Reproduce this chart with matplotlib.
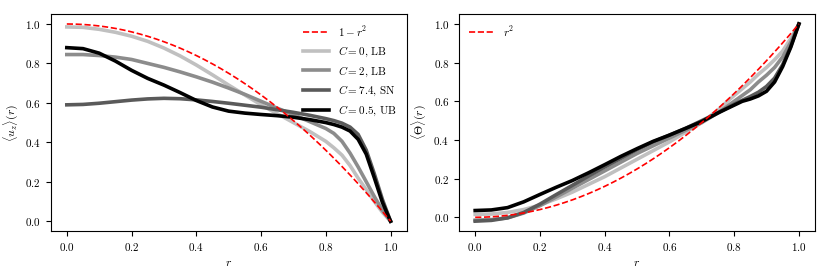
import numpy as np
import matplotlib
matplotlib.use("Agg")
import matplotlib.pyplot as plt

plt.rcParams['font.family'] = 'serif'
plt.rcParams['font.serif'] = ['cmr10', 'DejaVu Serif']
plt.rcParams['mathtext.fontset'] = 'cm'
plt.rcParams['axes.unicode_minus'] = False
plt.rcParams['axes.formatter.use_mathtext'] = True

# radial positions
r = [0.0, 0.05, 0.1, 0.15, 0.2, 0.25, 0.3, 0.35, 0.4, 0.45, 0.5, 0.55, 0.6,
     0.65, 0.7, 0.75, 0.8, 0.825, 0.85, 0.875, 0.9, 0.925, 0.95, 0.975, 1.0]

# mean axial velocity <u_z>(r)
uz_c0 = [0.985, 0.983, 0.973, 0.958, 0.938, 0.912, 0.878, 0.838, 0.792, 0.742, 0.69, 0.64,
         0.59, 0.545, 0.50, 0.455, 0.405, 0.372, 0.335, 0.282, 0.218, 0.16, 0.10, 0.045, 0.0]
uz_c2 = [0.845, 0.845, 0.84, 0.832, 0.82, 0.80, 0.78, 0.757, 0.732, 0.705, 0.675, 0.643,
         0.608, 0.573, 0.54, 0.505, 0.47, 0.445, 0.405, 0.345, 0.275, 0.2, 0.125, 0.055, 0.0]
uz_c74 = [0.59, 0.592, 0.598, 0.606, 0.614, 0.62, 0.623, 0.621, 0.615, 0.607, 0.598, 0.588,
          0.578, 0.565, 0.552, 0.537, 0.52, 0.51, 0.497, 0.477, 0.44, 0.36, 0.24, 0.11, 0.0]
uz_c05 = [0.88, 0.875, 0.852, 0.812, 0.765, 0.724, 0.69, 0.652, 0.612, 0.579, 0.558, 0.548,
          0.541, 0.535, 0.527, 0.515, 0.5, 0.49, 0.477, 0.457, 0.415, 0.34, 0.22, 0.095, 0.0]

# mean temperature <Theta>(r)
th_c0 = [0.015, 0.017, 0.025, 0.04, 0.063, 0.095, 0.13, 0.17, 0.21, 0.255, 0.30, 0.345,
         0.39, 0.44, 0.49, 0.555, 0.63, 0.665, 0.70, 0.74, 0.775, 0.815, 0.86, 0.925, 1.0]
th_c2 = [-0.015, -0.012, -0.003, 0.022, 0.06, 0.105, 0.15, 0.195, 0.24, 0.285, 0.33, 0.37,
         0.41, 0.45, 0.49, 0.54, 0.60, 0.63, 0.66, 0.70, 0.735, 0.775, 0.83, 0.905, 1.0]
th_c74 = [-0.02, -0.016, -0.003, 0.025, 0.068, 0.117, 0.165, 0.213, 0.26, 0.305, 0.35, 0.39,
          0.425, 0.46, 0.50, 0.54, 0.585, 0.605, 0.625, 0.647, 0.677, 0.72, 0.79, 0.885, 1.0]
th_c05 = [0.035, 0.038, 0.05, 0.08, 0.118, 0.155, 0.19, 0.23, 0.272, 0.315, 0.355, 0.393,
          0.425, 0.46, 0.495, 0.54, 0.58, 0.60, 0.612, 0.628, 0.652, 0.70, 0.78, 0.88, 1.0]

labels = [r'$C=0$, LB', r'$C=2$, LB', r'$C=7.4$, SN', r'$C=0.5$, UB']
colors = ['#c0c0c0', '#8c8c8c', '#5a5a5a', '#000000']

rr = np.linspace(0, 1, 200)

fig = plt.figure(figsize=(8.3, 2.77), dpi=100)
ax1 = fig.add_axes([0.061, 0.166, 0.429, 0.783])
ax2 = fig.add_axes([0.553, 0.166, 0.429, 0.783])

ax1.plot(rr, 1 - rr**2, 'r--', lw=1.2, label=r'$1-r^2$', zorder=5)
for y, lab, c in zip([uz_c0, uz_c2, uz_c74, uz_c05], labels, colors):
    ax1.plot(r, y, color=c, lw=2.6, label=lab, solid_joinstyle='round')

ax2.plot(rr, rr**2, 'r--', lw=1.2, label=r'$r^2$', zorder=5)
for y, lab, c in zip([th_c0, th_c2, th_c74, th_c05], labels, colors):
    ax2.plot(r, y, color=c, lw=2.6, solid_joinstyle='round')

ax1.set_ylabel(r'$\langle u_z\rangle(r)$', fontsize=8.5, labelpad=4)
ax2.set_ylabel(r'$\langle\Theta\rangle(r)$', fontsize=8.5, labelpad=4)
for ax in (ax1, ax2):
    ax.set_xlabel(r'$r$', fontsize=8.5)
    ax.set_xticks(np.arange(0, 1.01, 0.2))
    ax.set_yticks(np.arange(0, 1.01, 0.2))
    ax.tick_params(labelsize=8)

ax1.legend(frameon=False, fontsize=8, handlelength=2.3, loc='upper right')
ax2.legend(frameon=False, fontsize=8, handlelength=2.3, loc='upper left')

fig.savefig('out.png', dpi=100)
